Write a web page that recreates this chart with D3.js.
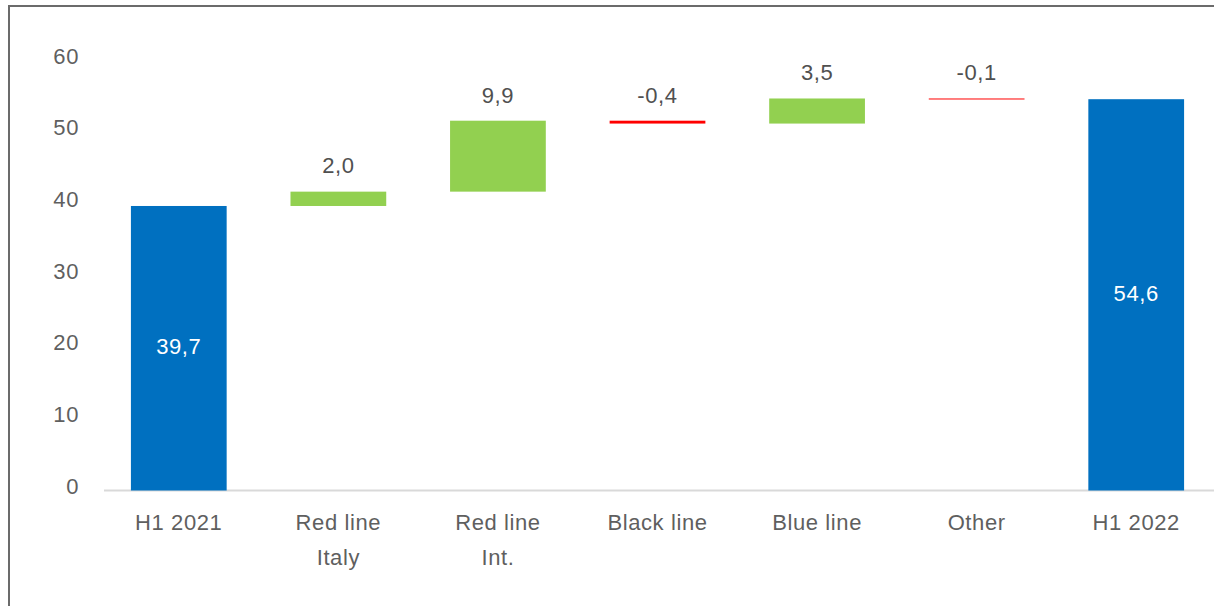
<!DOCTYPE html>
<html>
<head>
<meta charset="utf-8">
<script src="https://cdn.jsdelivr.net/npm/d3@7"></script>
<style>
  html, body { margin: 0; padding: 0; background: #fff; }
  svg { display: block; font-family: "Liberation Sans", Arial, sans-serif; }
  text { letter-spacing: 0.6px; }
</style>
</head>
<body>
<svg id="chart" width="1214" height="606"></svg>
<script>
// Waterfall: H1 2021 revenue bridge to H1 2022
const categories = ["H1 2021", "Red line\nItaly", "Red line\nInt.", "Black line", "Blue line", "Other", "H1 2022"];
const values     = [39.7, 2.0, 9.9, -0.4, 3.5, -0.1, 54.6];
const kinds      = ["total", "delta", "delta", "delta", "delta", "delta", "total"];
const yTicks     = [0, 10, 20, 30, 40, 50, 60];

const fmt = v => d3.format(".1f")(v).replace(".", ",").replace("−", "-");

// running base for each step
let running = 0;
const steps = categories.map((c, i) => {
  const v = values[i];
  let start, end;
  if (kinds[i] === "total") { start = 0; end = v; running = v; }
  else { start = running; end = running + v; running = end; }
  return { cat: c, value: v, kind: kinds[i], start, end };
});

const svg = d3.select("#chart");

// outer frame
svg.append("rect")
  .attr("x", 9).attr("y", 6)
  .attr("width", 1300).attr("height", 700)
  .attr("fill", "none").attr("stroke", "#6b6b6b").attr("stroke-width", 2);

const x = d3.scaleBand()
  .domain(categories)
  .range([99, 1216])
  .paddingInner(0.4)
  .paddingOuter(0.2);

const y = d3.scaleLinear().domain([0, 60]).range([490.5, 60.5]);

// y tick labels
svg.append("g").selectAll("text")
  .data(yTicks).join("text")
  .attr("x", 79).attr("y", d => y(d) - 2.5)
  .attr("text-anchor", "end")
  .attr("dominant-baseline", "middle")
  .attr("font-size", 22).attr("fill", "#5f5f5f")
  .text(d => d);

// baseline axis
svg.append("line")
  .attr("x1", 104).attr("x2", 1214)
  .attr("y1", y(0)).attr("y2", y(0))
  .attr("stroke", "#d9d9d9").attr("stroke-width", 2);

const colorOf = d => d.kind === "total" ? "#0070c0" : (d.value >= 0 ? "#92d050" : "#ff0000");

// bars
svg.append("g").selectAll("rect")
  .data(steps).join("rect")
  .attr("x", d => x(d.cat))
  .attr("width", x.bandwidth())
  .attr("y", d => y(Math.max(d.start, d.end)))
  .attr("height", d => Math.max(1, Math.abs(y(d.start) - y(d.end))))
  .attr("fill", colorOf);

// value labels
svg.append("g").selectAll("text")
  .data(steps).join("text")
  .attr("x", d => x(d.cat) + x.bandwidth() / 2)
  .attr("y", d => d.kind === "total"
      ? (y(0) + y(d.end)) / 2
      : y(Math.max(d.start, d.end)) - 24)
  .attr("text-anchor", "middle")
  .attr("dominant-baseline", "middle")
  .attr("font-size", 22)
  .attr("fill", d => d.kind === "total" ? "#ffffff" : "#505050")
  .text(d => fmt(d.value));

// category labels
const catG = svg.append("g").selectAll("text")
  .data(categories).join("text")
  .attr("x", d => x(d) + x.bandwidth() / 2)
  .attr("y", 522)
  .attr("text-anchor", "middle")
  .attr("font-size", 22).attr("fill", "#5f5f5f");
catG.each(function(d) {
  const t = d3.select(this);
  d.split("\n").forEach((line, i) => {
    t.append("tspan")
      .attr("x", x(d) + x.bandwidth() / 2)
      .attr("dy", i === 0 ? "0.35em" : 35)
      .text(line);
  });
});
</script>
</body>
</html>
